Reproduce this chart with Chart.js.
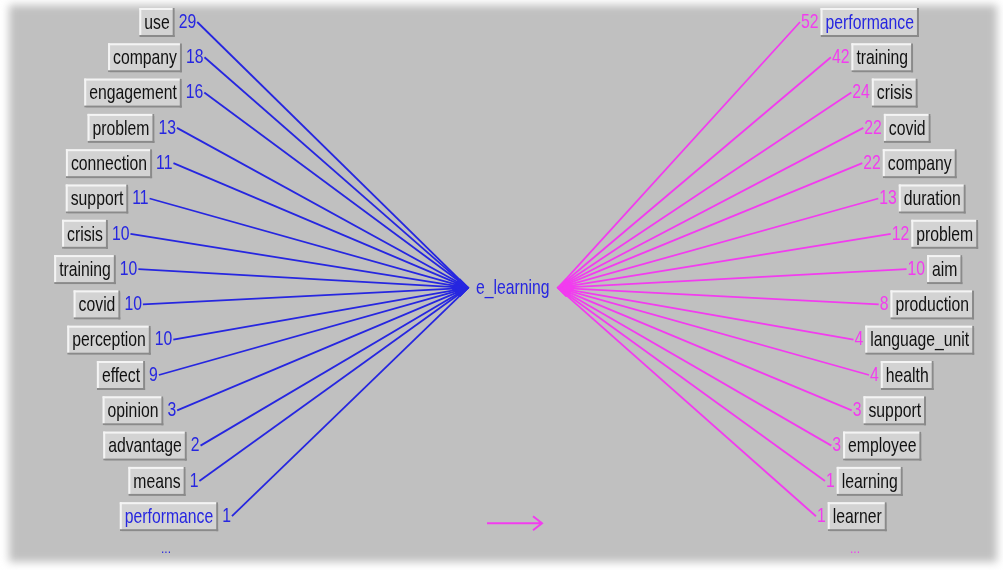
<!DOCTYPE html>
<html>
<head>
<meta charset="utf-8">
<script src="https://cdn.jsdelivr.net/npm/chart.js@4.4.1/dist/chart.umd.min.js"></script>
<style>
  html, body { margin: 0; padding: 0; background: #fff; }
  #wrap { width: 1003px; height: 570px; }
</style>
</head>
<body>
<div id="wrap"><canvas id="star"></canvas></div>
<script>
// terms linked to the central term (left = before, right = after)
const centerTerm = "e_learning";
const leftTerms = ["use", "company", "engagement", "problem", "connection", "support", "crisis", "training", "covid", "perception", "effect", "opinion", "advantage", "means", "performance"];
const leftCounts = [29, 18, 16, 13, 11, 11, 10, 10, 10, 10, 9, 3, 2, 1, 1];
const rightTerms = ["performance", "training", "crisis", "covid", "company", "duration", "problem", "aim", "production", "language_unit", "health", "support", "employee", "learning", "learner"];
const rightCounts = [52, 42, 24, 22, 22, 13, 12, 10, 8, 4, 4, 3, 3, 1, 1];
const highlightTerm = "performance";

const FONT = '21px "Liberation Sans", Arial, sans-serif';
const SX = 0.75;                 // the labels are horizontally squeezed
const BLUE = "#2626e0", MAGENTA = "#f23cef", BG = "#c0c0c0";
const CENTER_ROW = 7.53;
const LEFT_HUB = 468, RIGHT_HUB = 558;

// boxes sit on a "V": centred at row 6.5, moving outward
const leftBoxX = i => 79 + 12 * Math.abs(i - 6.5);
const rightBoxX = i => 951 - 12.5 * Math.abs(i - 6.5);

const mctx = document.createElement("canvas").getContext("2d");
mctx.font = FONT;
const tw = s => mctx.measureText(s).width * SX;
const PAD = 5;

function leftLayout(i) {
    const bw = tw(leftTerms[i]) + 2 * PAD;
    const boxL = leftBoxX(i) - bw / 2;
    const numL = boxL + bw + 4;
    return { bw, boxL, numL, end: numL + tw(String(leftCounts[i])) + 1 };
}
function rightLayout(i) {
    const bw = tw(rightTerms[i]) + 2 * PAD;
    const boxL = rightBoxX(i) - bw / 2;
    const numR = boxL - 2;
    const numL = numR - tw(String(rightCounts[i]));
    return { bw, boxL, numL, end: numL - 1 };
}

const datasets = [];
leftTerms.forEach((t, i) => datasets.push({
    data: [{ x: leftLayout(i).end, y: i }, { x: LEFT_HUB, y: CENTER_ROW }],
    borderColor: BLUE, borderWidth: 1.8, pointRadius: 0, showLine: true
}));
rightTerms.forEach((t, i) => datasets.push({
    data: [{ x: rightLayout(i).end, y: i }, { x: RIGHT_HUB, y: CENTER_ROW }],
    borderColor: MAGENTA, borderWidth: 1.8, pointRadius: 0, showLine: true
}));
// arrow heads at the hub
datasets.push({ data: [{ x: LEFT_HUB - 8, y: CENTER_ROW }], pointStyle: "rectRot", pointRadius: 9, backgroundColor: BLUE, borderColor: BLUE, showLine: false });
datasets.push({ data: [{ x: RIGHT_HUB + 8, y: CENTER_ROW }], pointStyle: "rectRot", pointRadius: 9, backgroundColor: MAGENTA, borderColor: MAGENTA, showLine: false });

function squeezed(ctx, s, x, y, color) {
    ctx.save();
    ctx.translate(x, y);
    ctx.scale(SX, 1);
    ctx.fillStyle = color;
    ctx.fillText(s, 0, 0);
    ctx.restore();
}

function drawBox(ctx, x, y, w, h) {
    ctx.fillStyle = "#d3d3d3";
    ctx.fillRect(x, y, w, h);
    ctx.fillStyle = "#f4f4f4";
    ctx.fillRect(x, y, w, 2);
    ctx.fillRect(x, y, 2, h);
    ctx.fillStyle = "#8a8a8a";
    ctx.fillRect(x, y + h - 2, w, 2);
    ctx.fillRect(x + w - 2, y, 2, h);
}

const backdrop = {
    id: "backdrop",
    beforeDraw(chart) {
        const ctx = chart.ctx;
        ctx.save();
        ctx.fillStyle = "#fff";
        ctx.fillRect(0, 0, chart.width, chart.height);
        ctx.filter = "blur(4px)";
        ctx.fillStyle = BG;
        ctx.fillRect(9, 5, 988, 557);
        ctx.restore();
    }
};

const labels = {
    id: "labels",
    afterDatasetsDraw(chart) {
        const ctx = chart.ctx, xs = chart.scales.x, ys = chart.scales.y;
        ctx.save();
        ctx.font = FONT;
        ctx.textBaseline = "middle";
        leftTerms.forEach((t, i) => {
            const L = leftLayout(i), y = ys.getPixelForValue(i);
            const x0 = xs.getPixelForValue(L.boxL);
            drawBox(ctx, x0, y - 14, L.bw, 29);
            squeezed(ctx, t, x0 + PAD, y + 1, t === highlightTerm ? BLUE : "#111");
            squeezed(ctx, String(leftCounts[i]), xs.getPixelForValue(L.numL), y, BLUE);
        });
        rightTerms.forEach((t, i) => {
            const L = rightLayout(i), y = ys.getPixelForValue(i);
            const x0 = xs.getPixelForValue(L.boxL);
            drawBox(ctx, x0, y - 14, L.bw, 29);
            squeezed(ctx, t, x0 + PAD, y + 1, t === highlightTerm ? BLUE : "#111");
            squeezed(ctx, String(rightCounts[i]), xs.getPixelForValue(L.numL), y, MAGENTA);
        });
        // centre term
        squeezed(ctx, centerTerm, xs.getPixelForValue(LEFT_HUB + 8), ys.getPixelForValue(CENTER_ROW), BLUE);
        // "more" marks
        ctx.font = '12px "Liberation Sans", Arial, sans-serif';
        ctx.textAlign = "center";
        ctx.fillStyle = BLUE;
        ctx.fillText("...", xs.getPixelForValue(166), ys.getPixelForValue(leftTerms.length) - 2);
        ctx.fillStyle = MAGENTA;
        ctx.fillText("...", xs.getPixelForValue(855), ys.getPixelForValue(rightTerms.length) - 2);
        // direction arrow
        const ay = ys.getPixelForValue(14.2), ax0 = xs.getPixelForValue(487), ax1 = xs.getPixelForValue(542);
        ctx.strokeStyle = MAGENTA;
        ctx.lineWidth = 2;
        ctx.beginPath();
        ctx.moveTo(ax0, ay); ctx.lineTo(ax1, ay);
        ctx.moveTo(ax1 - 9, ay - 7); ctx.lineTo(ax1, ay); ctx.lineTo(ax1 - 9, ay + 7);
        ctx.stroke();
        ctx.restore();
    }
};

new Chart(document.getElementById("star"), {
    type: "scatter",
    data: { datasets },
    options: {
        responsive: true,
        maintainAspectRatio: false,
        animation: false,
        layout: { padding: 0, autoPadding: false },
        plugins: { legend: { display: false }, tooltip: { enabled: false } },
        scales: {
            x: { type: "linear", min: 0, max: 1003, display: false },
            y: { type: "linear", min: -0.623, max: 15.524, reverse: true, display: false }
        },
        elements: { line: { tension: 0 } },
        clip: false
    },
    plugins: [backdrop, labels]
});
</script>
</body>
</html>
